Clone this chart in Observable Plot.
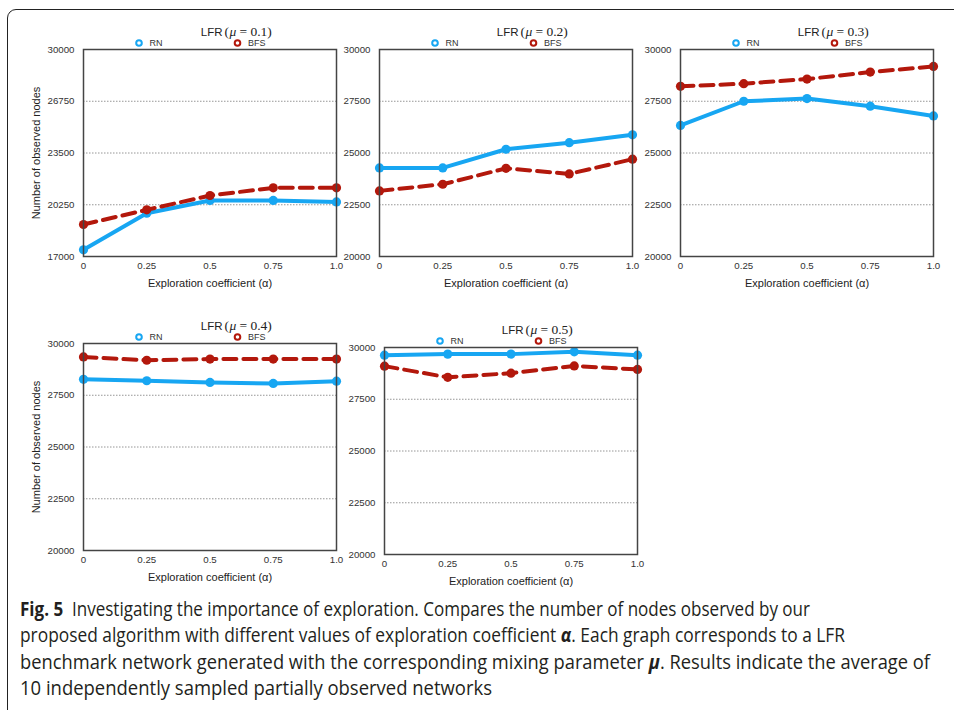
<!DOCTYPE html>
<html>
<head>
<meta charset="utf-8">
<script src="https://cdn.jsdelivr.net/npm/d3@7"></script>
<script src="https://cdn.jsdelivr.net/npm/@observablehq/plot@0.6"></script>
<style>
  html, body { margin: 0; padding: 0; background: #fff; }
  #root { position: relative; width: 954px; height: 710px; overflow: hidden; background: #fff; }
  #frame { position: absolute; left: 7px; top: 9px; width: 1000px; height: 800px; border: 1.3px solid #222; border-radius: 9px; }
  .panel { position: absolute; }
  #caption { position: absolute; left: 20px; top: 596px; font-family: "Open Sans", "Noto Sans", sans-serif; font-size: 19.5px; line-height: 26.3px; color: #231f20; white-space: nowrap; }
  #caption span { display: block; width: max-content; transform-origin: 0 50%; }
  #caption b { font-weight: bold; }
</style>
</head>
<body>
<div id="root">
  <div id="frame"></div>
  <div class="panel" id="p0" style="left:0px;top:0px"></div>
  <div class="panel" id="p1" style="left:296px;top:0px"></div>
  <div class="panel" id="p2" style="left:597px;top:0px"></div>
  <div class="panel" id="p3" style="left:0px;top:294px"></div>
  <div class="panel" id="p4" style="left:301px;top:297.5px"></div>
  <div id="caption"><span><b>Fig. 5</b>&nbsp; Investigating the importance of exploration. Compares the number of nodes observed by our</span><span>proposed algorithm with different values of exploration coefficient <i><b>α</b></i>. Each graph corresponds to a LFR</span><span>benchmark network generated with the corresponding mixing parameter <i><b>μ</b></i>. Results indicate the average of</span><span>10 independently sampled partially observed networks</span></div>
</div>
<script>
// ---- data ----
const alpha = [0, 0.25, 0.5, 0.75, 1.0];
const xTickLabels = ["0", "0.25", "0.5", "0.75", "1.0"];
const muLabels = ["0.1", "0.2", "0.3", "0.4", "0.5"];
const seriesNames = ["RN", "BFS"];

const rn01 = [17420, 19720, 20520, 20520, 20430];
const bfs01 = [19010, 19930, 20830, 21310, 21310];
const rn02 = [24280, 24280, 25180, 25500, 25880];
const bfs02 = [23170, 23490, 24260, 23990, 24700];
const rn03 = [26330, 27500, 27630, 27260, 26790];
const bfs03 = [28220, 28350, 28570, 28910, 29180];
const rn04 = [28270, 28200, 28120, 28070, 28180];
const bfs04 = [29350, 29190, 29250, 29250, 29250];
const rn05 = [29630, 29680, 29680, 29790, 29630];
const bfs05 = [29100, 28560, 28760, 29110, 28940];

const yTicksA = [17000, 20250, 23500, 26750, 30000];
const yTicksB = [20000, 22500, 25000, 27500, 30000];

const xLabel = "Exploration coefficient (α)";
const yLabel = "Number of observed nodes";

const panels = [
  {id: "p0", mu: muLabels[0], rn: rn01, bfs: bfs01, ticks: yTicksA, ylab: true},
  {id: "p1", mu: muLabels[1], rn: rn02, bfs: bfs02, ticks: yTicksB, ylab: false},
  {id: "p2", mu: muLabels[2], rn: rn03, bfs: bfs03, ticks: yTicksB, ylab: false},
  {id: "p3", mu: muLabels[3], rn: rn04, bfs: bfs04, ticks: yTicksB, ylab: true},
  {id: "p4", mu: muLabels[4], rn: rn05, bfs: bfs05, ticks: yTicksB, ylab: false}
];

const BLUE = "#17a6f2";
const RED = "#b3180c";
const SANS = "Liberation Sans, Arial, Helvetica, sans-serif";
const SERIF = "Liberation Serif, Times New Roman, serif";

for (const p of panels) {
  const rows = (vals) => alpha.map((a, i) => ({a, v: vals[i]}));
  const rn = rows(p.rn), bfs = rows(p.bfs);
  const grid = p.ticks.slice(1, -1);
  const T = {lineAnchor: "middle"};
  const marks = [
    Plot.ruleY(grid, {stroke: "#8a8a8a", strokeWidth: 0.9, strokeDasharray: "1.5,1.5"}),
    Plot.axisY(p.ticks, {tickSize: 0, tickPadding: 9, fontSize: 9.7, fontFamily: SANS, fill: "#333", label: null,
      tickFormat: d => String(d)}),
    Plot.axisX(alpha, {tickSize: 0, tickPadding: 6, fontSize: 9.7, fontFamily: SANS, fill: "#333", label: null,
      tickFormat: d => xTickLabels[alpha.indexOf(d)]}),
    Plot.line(rn, {x: "a", y: "v", stroke: BLUE, strokeWidth: 4}),
    Plot.dot(rn, {x: "a", y: "v", fill: BLUE, r: 4.6}),
    Plot.line(bfs, {x: "a", y: "v", stroke: RED, strokeWidth: 4, strokeDasharray: "13,7"}),
    Plot.dot(bfs, {x: "a", y: "v", fill: RED, r: 4.6}),
    Plot.frame({stroke: "#444", strokeWidth: 1.5}),
    // title
    Plot.text(["LFR"], {...T, text: d => d, frameAnchor: "top", dx: 12.5, dy: -17.5, textAnchor: "end", fontSize: 11.5, fontFamily: SANS, fill: "#222"}),
    Plot.text(["("], {...T, text: d => d, frameAnchor: "top", dx: 14.5, dy: -17.5, textAnchor: "start", fontSize: 13.5, fontFamily: SERIF, fill: "#222"}),
    Plot.text(["μ"], {...T, text: d => d, frameAnchor: "top", dx: 19.5, dy: -17.5, textAnchor: "start", fontSize: 13.5, fontStyle: "italic", fontFamily: SERIF, fill: "#222"}),
    Plot.text(["= " + p.mu + ")"], {...T, text: d => d, frameAnchor: "top", dx: 29.5, dy: -17.5, textAnchor: "start", fontSize: 13.5, fontFamily: SERIF, fill: "#222"}),
    // legend
    Plot.dot([seriesNames[0]], {frameAnchor: "top-left", dx: 55.5, dy: -6.5, r: 2.8, stroke: BLUE, strokeWidth: 2, fill: "white"}),
    Plot.text([seriesNames[0]], {...T, text: d => d, frameAnchor: "top-left", dx: 66, dy: -6.3, textAnchor: "start", fontSize: 9, fontFamily: SANS, fill: "#333"}),
    Plot.dot([seriesNames[1]], {frameAnchor: "top", dx: 27.5, dy: -6.5, r: 2.8, stroke: RED, strokeWidth: 2, fill: "white"}),
    Plot.text([seriesNames[1]], {...T, text: d => d, frameAnchor: "top", dx: 38, dy: -6.3, textAnchor: "start", fontSize: 9, fontFamily: SANS, fill: "#333"}),
    // x label
    Plot.text([xLabel], {...T, text: d => d, frameAnchor: "bottom", dy: 27, textAnchor: "middle", fontSize: 11, fontFamily: SANS, fill: "#222"})
  ];
  if (p.ylab) {
    marks.push(Plot.text([yLabel], {...T, text: d => d, frameAnchor: "left", dx: -47, rotate: -90, textAnchor: "middle", fontSize: 11, fontFamily: SANS, fill: "#222"}));
  }
  const chart = Plot.plot({
    width: 348,
    height: 296,
    marginLeft: 83,
    marginRight: 12,
    marginTop: 49,
    marginBottom: 40,
    style: {background: "transparent", overflow: "visible"},
    x: {domain: [0, 1], axis: null},
    y: {domain: [p.ticks[0], p.ticks[p.ticks.length - 1]], axis: null},
    marks
  });
  document.getElementById(p.id).appendChild(chart);
}

// the reference caption uses a condensed face; squeeze each line to its width in the picture
const lineWidths = [790, 825, 910, 472];
document.querySelectorAll("#caption span").forEach((s, i) => {
  const w = s.getBoundingClientRect().width;
  s.style.transform = `scaleX(${lineWidths[i] / w})`;
});
</script>
</body>
</html>
